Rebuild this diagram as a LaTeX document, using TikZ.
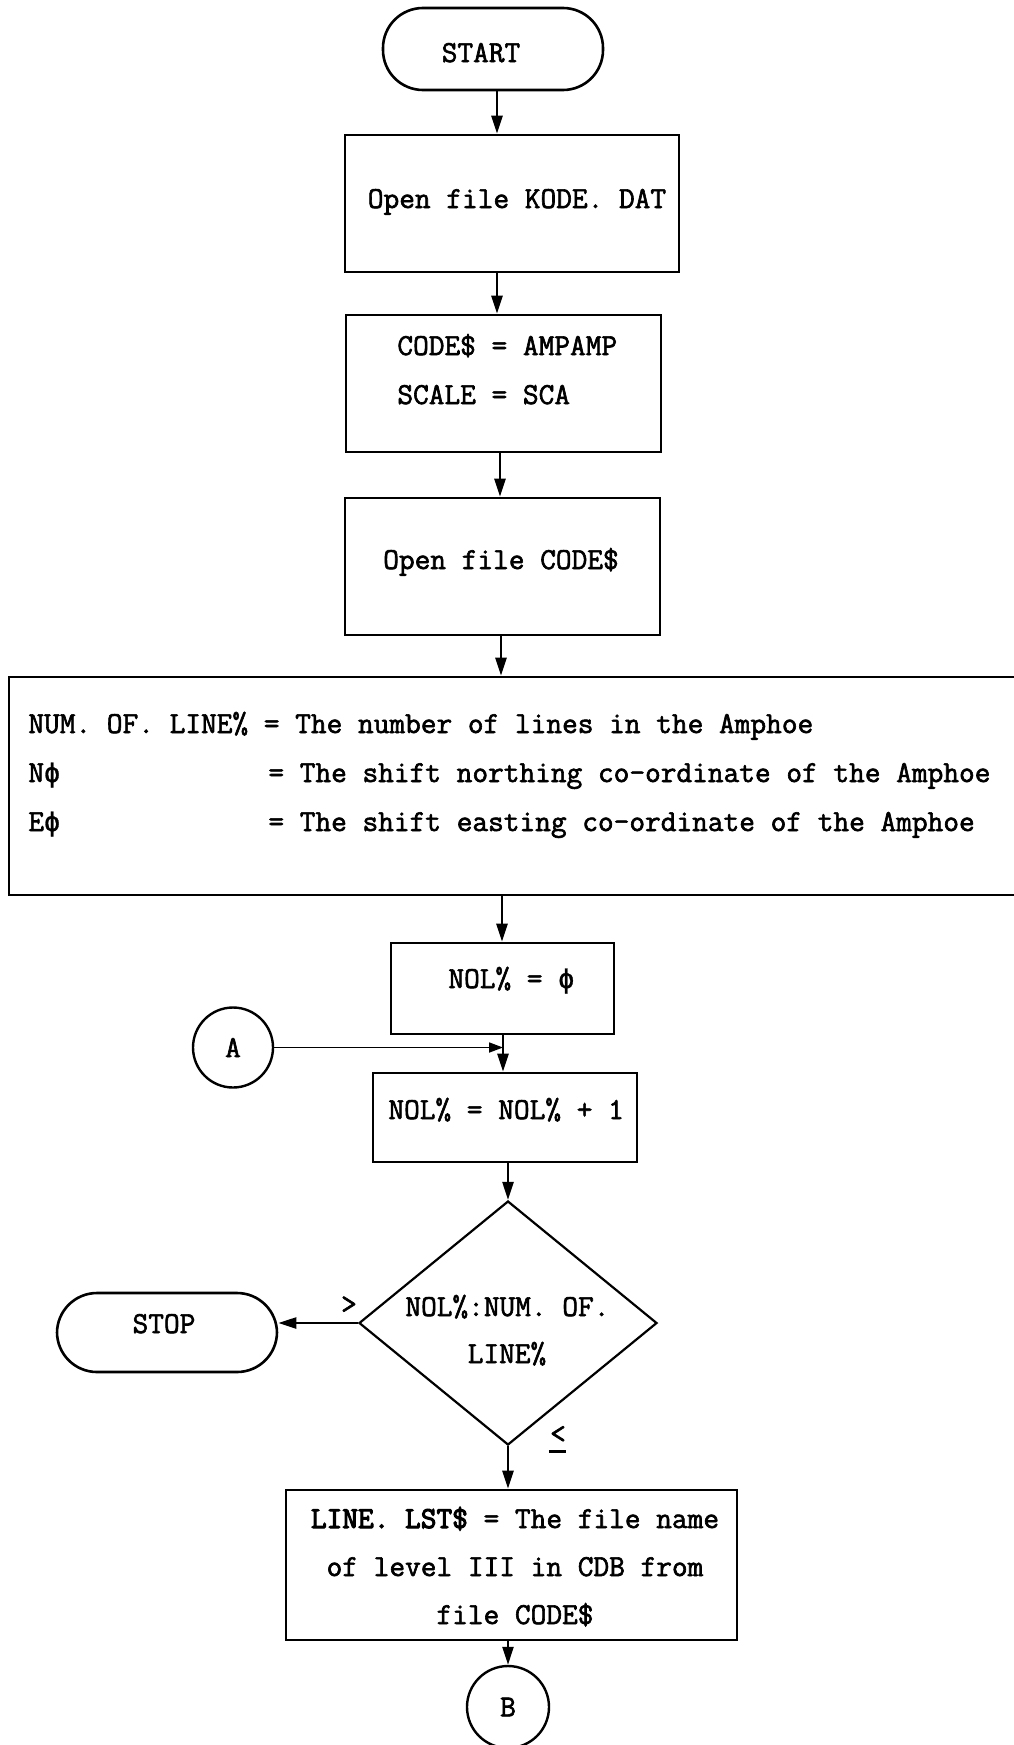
\documentclass[tikz,border=0pt]{standalone}
\usepackage{fontspec}
\setmainfont{Latin Modern Mono}[RawFeature={embolden=2}]
\newfontfamily\tbold{Latin Modern Mono}[RawFeature={embolden=3.5}]
\newfontfamily\phif{DejaVu Sans Mono}[RawFeature={embolden=1}]
\usetikzlibrary{arrows.meta,shapes.geometric}
\newcommand{\ph}{{\fontsize{13.33pt}{24pt}\phif ϕ}}
\begin{document}
\begin{tikzpicture}[x=0.5pt,y=-0.5pt,
  every node/.style={font=\fontsize{15.24pt}{24pt}\selectfont\frenchspacing},
  shp/.style={draw, line width=1.3pt, inner sep=0pt},
  boxst/.style={shp, rectangle},
  term/.style={shp, rectangle, rounded corners=20pt},
  conn/.style={shp, circle, line width=1.2pt},
  dec/.style={shp, diamond, line width=1.1pt},
  txt/.style={inner sep=0pt},
  arr/.style={line width=1.2pt, -{Triangle[length=9pt,width=5.5pt]}},
  arrthin/.style={line width=0.9pt, -{Triangle[length=7pt,width=5pt]}}]
\useasboundingbox (0,0) rectangle (1013,1745);

% shapes
\node[term, minimum width=110pt, minimum height=41pt] (start) at (493,49) {};
\node[txt, anchor=base] (startt) at (481,62) {START};

\node[boxst, minimum width=167pt, minimum height=68.5pt] (b1) at (512,203.5) {};
\node[txt, anchor=base] (b1t) at (517,208) {Open file KODE. DAT};

\node[boxst, minimum width=157.5pt, minimum height=68.5pt] (b2) at (503.5,383.5) {};
\node[txt, anchor=base west] (b2a) at (397,355) {CODE\$ = AMPAMP};
\node[txt, anchor=base west] (b2b) at (397,404) {SCALE = SCA};

\node[boxst, minimum width=157.5pt, minimum height=68.5pt] (b3) at (502.5,566.5) {};
\node[txt, anchor=base] (b3t) at (501,569) {Open file CODE\$};

\node[boxst, minimum width=504.5pt, minimum height=109pt] (big) at (513.5,786) {};
\node[txt, anchor=base west] (biga) at (28,733) {NUM. OF. LINE\% = The number of lines in the Amphoe};
\node[txt, anchor=base west] (bigb) at (28,782) {\makebox[120pt][l]{N\ph}= The shift northing co-ordinate of the Amphoe};
\node[txt, anchor=base west] (bigc) at (28,831) {\makebox[120pt][l]{E\ph}= The shift easting co-ordinate of the Amphoe};

\node[boxst, minimum width=111.5pt, minimum height=45.5pt] (n0) at (502.5,988.5) {};
\node[txt, anchor=base west] (n0t) at (448,988) {NOL\% = \ph};

\node[conn, minimum size=40pt] (A) at (233,1047.5) {A};

\node[boxst, minimum width=132pt, minimum height=44.5pt] (n1) at (505,1117.5) {};
\node[txt, anchor=base west] (n1t) at (388,1119) {NOL\% = NOL\% + 1};

\node[dec, minimum width=149pt, minimum height=122pt] (d) at (508,1323) {};
\node[txt, anchor=base west] (da) at (405,1316) {NOL\%:NUM. OF.};
\node[txt, anchor=base] (db) at (507,1363) {LINE\%};

\node[term, minimum width=110pt, minimum height=39.5pt] (stop) at (167,1332.5) {};
\node[txt, anchor=base] (stopt) at (164,1333) {STOP};

\node[txt] (gt) at (349,1305) {>};
\node[txt, anchor=base] (le) at (558,1443) {<\llap{\rule[-5pt]{8.5pt}{1.3pt}}};

\node[boxst, minimum width=225.5pt, minimum height=75pt] (lb) at (511.5,1565) {};
\node[txt, anchor=base] (lba) at (515,1528) {{\tbold LINE. LST\$} = The file name};
\node[txt, anchor=base] (lbb) at (515,1576) {of level III in CDB from};
\node[txt, anchor=base] (lbc) at (515,1624) {file CODE\$};

\node[conn, minimum size=41pt] (B) at (508,1707) {B};

% connector columns
\coordinate (c1) at (497,0);
\coordinate (c2) at (500,0);
\coordinate (c3) at (501,0);
\coordinate (c4) at (502,0);
\coordinate (j) at (503,1047.5);

% connectors
\draw[arr] (start.south -| c1) -- (b1.north -| c1);
\draw[arr] (b1.south -| c1) -- (b2.north -| c1);
\draw[arr] (b2.south -| c2) -- (b3.north -| c2);
\draw[arr] (b3.south -| c3) -- (big.north -| c3);
\draw[arr] (big.south -| c4) -- (n0.north -| c4);
\draw[arr] (n0.south -| j) -- (n1.north -| j);
\draw[arrthin] (A.east) -- (j);
\draw[arr] (n1.south -| d.north) -- (d.north);
\draw[arr] (d.west) -- (d.west -| stop.east);
\draw[arr] (d.south) -- (d.south |- lb.north);
\draw[arr] (lb.south -| B.north) -- (B.north);
\end{tikzpicture}
\end{document}
